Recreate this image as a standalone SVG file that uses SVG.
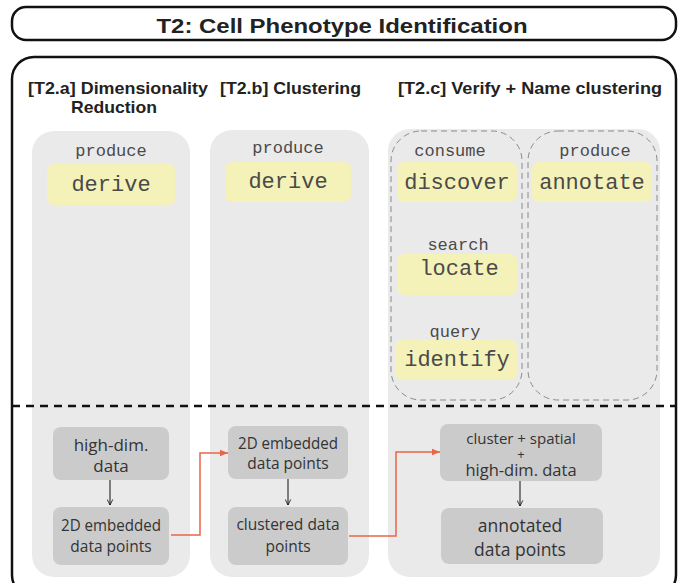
<svg xmlns="http://www.w3.org/2000/svg" width="683" height="583" viewBox="0 0 683 583">
<style>
.frame{fill:none;stroke:#111;stroke-width:2.5}
.col{fill:#ebeaea}
.yel{fill:#f4f2b9}
.dash{fill:none;stroke:#808080;stroke-width:0.9;stroke-dasharray:6 4}
.gbox{fill:#cbcbcb}
.hdr{font-family:"Liberation Sans",Arial,sans-serif;font-weight:bold;fill:#222}
.mono{font-family:"Liberation Mono","Courier New",monospace;fill:#4a4a4a;text-anchor:middle}
.sm{font-size:17px}
.lg{font-size:22px}
.sans{font-family:"Open Sans","Liberation Sans",sans-serif;fill:#333;text-anchor:middle}
.blk{stroke:#111;stroke-width:1;fill:none}
.org{stroke:#e8664a;stroke-width:1.5;fill:none}
</style>
<defs>
<marker id="ah" viewBox="0 0 10 10" refX="9" refY="5" markerWidth="7" markerHeight="7" orient="auto" markerUnits="userSpaceOnUse">
<path d="M1,1 L9,5 L1,9" fill="none" stroke="#111" stroke-width="1.2"/>
</marker>
<marker id="ao" viewBox="0 0 10 10" refX="10" refY="5" markerWidth="10" markerHeight="8" orient="auto" markerUnits="userSpaceOnUse">
<path d="M0,1 L10,5 L0,9 Z" fill="#e8664a"/>
</marker>
</defs>

<g id="title">
<rect x="12" y="7" width="664" height="33" rx="14" class="frame"/>
<text x="342" y="33" class="hdr" font-size="21" text-anchor="middle" textLength="371" lengthAdjust="spacingAndGlyphs">T2: Cell Phenotype Identification</text>
</g>

<g id="main-frame">
<rect x="12" y="57" width="664" height="540" rx="22" class="frame"/>
</g>

<g id="col-a">
<rect x="32" y="131" width="158" height="446" rx="22" class="col"/>
<text x="28" y="94" class="hdr" font-size="17" textLength="180" lengthAdjust="spacingAndGlyphs">[T2.a] Dimensionality</text>
<text x="71" y="113" class="hdr" font-size="17" textLength="86" lengthAdjust="spacingAndGlyphs">Reduction</text>
</g>
<g id="col-b">
<rect x="210" y="130" width="159" height="447" rx="22" class="col"/>
<text x="220" y="94" class="hdr" font-size="17" textLength="141" lengthAdjust="spacingAndGlyphs">[T2.b] Clustering</text>
</g>
<g id="col-c">
<rect x="388" y="129" width="272" height="448" rx="22" class="col"/>
<text x="398" y="94" class="hdr" font-size="17" textLength="264" lengthAdjust="spacingAndGlyphs">[T2.c] Verify + Name clustering</text>
<rect x="391" y="131" width="131" height="269" rx="30" class="dash"/>
<rect x="528" y="131" width="129" height="269" rx="30" class="dash"/>
</g>

<g id="a-derive">
<text x="111" y="156" class="mono sm">produce</text>
<rect x="47" y="164" width="128" height="41" rx="7" class="yel"/>
<text x="111" y="191" class="mono lg">derive</text>
</g>
<g id="b-derive">
<text x="288" y="153" class="mono sm">produce</text>
<rect x="225" y="162" width="126" height="40" rx="7" class="yel"/>
<text x="288" y="188" class="mono lg">derive</text>
</g>
<g id="c-discover">
<text x="450" y="156" class="mono sm">consume</text>
<rect x="397" y="162" width="120" height="40" rx="7" class="yel"/>
<text x="457" y="189" class="mono lg">discover</text>
</g>
<g id="c-annotate">
<text x="595" y="156" class="mono sm">produce</text>
<rect x="532" y="162" width="120" height="40" rx="7" class="yel"/>
<text x="592" y="189" class="mono lg">annotate</text>
</g>
<g id="c-locate">
<text x="458" y="250" class="mono sm">search</text>
<rect x="397" y="254" width="120" height="41" rx="7" class="yel"/>
<text x="459" y="275" class="mono lg">locate</text>
</g>
<g id="c-identify">
<text x="455" y="337" class="mono sm">query</text>
<rect x="395" y="340" width="122" height="40" rx="7" class="yel"/>
<text x="457" y="366" class="mono lg">identify</text>
</g>

<g id="separator">
<line x1="12" y1="406" x2="676" y2="406" stroke="#111" stroke-width="2.5" stroke-dasharray="8 6"/>
</g>

<g id="a-highdim">
<rect x="53" y="427" width="116" height="53" rx="8" class="gbox"/>
<text x="111" y="451" class="sans" font-size="17">high-dim.</text>
<text x="111" y="472" class="sans" font-size="17">data</text>
</g>
<g id="a-2d">
<rect x="53" y="507" width="116" height="58" rx="8" class="gbox"/>
<text x="111" y="531" class="sans" font-size="15.5" textLength="100" lengthAdjust="spacingAndGlyphs">2D embedded</text>
<text x="111" y="552" class="sans" font-size="15.5">data points</text>
</g>
<g id="b-2d">
<rect x="228" y="426" width="120" height="53" rx="8" class="gbox"/>
<text x="288" y="449" class="sans" font-size="15.5" textLength="100" lengthAdjust="spacingAndGlyphs">2D embedded</text>
<text x="288" y="469" class="sans" font-size="15.5">data points</text>
</g>
<g id="b-clustered">
<rect x="228" y="507" width="120" height="58" rx="8" class="gbox"/>
<text x="288" y="530" class="sans" font-size="15.5">clustered data</text>
<text x="288" y="552" class="sans" font-size="15.5">points</text>
</g>
<g id="c-cluster">
<rect x="440" y="424" width="162" height="57" rx="8" class="gbox"/>
<text x="521" y="444" class="sans" font-size="15">cluster + spatial</text>
<text x="521" y="459" class="sans" font-size="13">+</text>
<text x="521" y="476" class="sans" font-size="16.5">high-dim. data</text>
</g>
<g id="c-annotated">
<rect x="441" y="508" width="162" height="56" rx="8" class="gbox"/>
<text x="520" y="532" class="sans" font-size="17.5">annotated</text>
<text x="520" y="556" class="sans" font-size="17.5">data points</text>
</g>

<g id="connectors">
<line x1="110" y1="480" x2="110" y2="505" class="blk" marker-end="url(#ah)"/>
<line x1="288" y1="479" x2="288" y2="505" class="blk" marker-end="url(#ah)"/>
<line x1="520" y1="481" x2="520" y2="506" class="blk" marker-end="url(#ah)"/>
<polyline points="171,535 200,535 200,453 228,453" class="org" marker-end="url(#ao)"/>
<polyline points="349,536 396,536 396,452 440,452" class="org" marker-end="url(#ao)"/>
</g>
</svg>
